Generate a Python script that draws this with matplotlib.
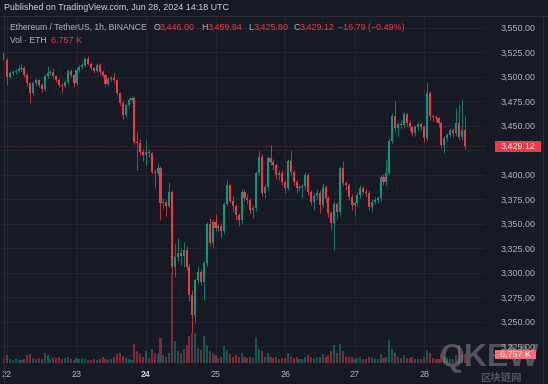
import numpy as np
import matplotlib
matplotlib.use('Agg')
import matplotlib.pyplot as plt
from matplotlib.patches import Rectangle
from matplotlib.transforms import blended_transform_factory

# ---------------- data (hourly candles, index 0 = Jun 22 00:00 UTC) ----------------
hours = list(range(-1, 159))
open_ = [3523.9, 3517.0, 3500.0, 3503.4, 3505.0, 3506.1, 3507.5, 3508.6, 3501.7, 3493.2,
         3483.0, 3493.2, 3496.6, 3491.5, 3487.1, 3500.7, 3503.4, 3504.8, 3500.7, 3496.6,
         3491.5, 3490.5, 3494.9, 3505.8, 3501.7, 3493.2, 3506.8, 3509.6, 3512.0, 3517.8,
         3513.0, 3508.6, 3506.1, 3512.0, 3505.1, 3501.7, 3492.2, 3497.3, 3498.3, 3496.6,
         3483.0, 3472.8, 3460.9, 3471.1, 3476.2, 3478.6, 3433.7, 3432.7, 3423.5, 3420.1,
         3423.5, 3421.8, 3403.1, 3402.0, 3406.8, 3371.1, 3372.0, 3368.0, 3382.7, 3306.1,
         3316.3, 3319.8, 3317.0, 3323.2, 3306.1, 3277.2, 3256.8, 3292.5, 3301.0, 3290.8,
         3309.6, 3349.7, 3330.0, 3352.0, 3345.3, 3347.7, 3342.9, 3370.1, 3389.5, 3373.5,
         3368.0, 3358.9, 3353.8, 3382.7, 3375.9, 3374.2, 3364.0, 3366.0, 3401.4, 3418.4,
         3381.0, 3387.8, 3416.7, 3413.3, 3409.9, 3399.7, 3402.0, 3392.9, 3386.1, 3414.0,
         3403.1, 3392.9, 3386.1, 3387.0, 3388.0, 3400.0, 3382.7, 3372.5, 3378.6, 3381.0,
         3369.1, 3387.2, 3375.9, 3360.6, 3350.4, 3370.1, 3362.2, 3406.5, 3391.2, 3389.5,
         3377.6, 3369.1, 3370.8, 3379.3, 3386.1, 3382.7, 3381.5, 3367.3, 3372.4, 3374.2,
         3375.9, 3398.0, 3392.9, 3402.0, 3434.7, 3459.9, 3447.3, 3451.4, 3450.7, 3461.6,
         3453.1, 3448.4, 3442.2, 3449.0, 3451.4, 3449.0, 3437.1, 3483.1, 3459.9, 3458.6,
         3457.6, 3453.1, 3430.3, 3437.1, 3440.5, 3445.6, 3442.2, 3452.4, 3438.2, 3446.0]
high = [3526.0, 3519.0, 3505.5, 3507.0, 3508.0, 3512.0, 3513.0, 3510.5, 3503.5, 3495.0,
        3495.5, 3499.0, 3498.0, 3494.0, 3503.0, 3511.0, 3507.0, 3508.6, 3502.0, 3498.5,
        3494.0, 3497.0, 3507.5, 3508.0, 3503.0, 3509.0, 3511.5, 3514.0, 3520.0, 3521.0,
        3514.5, 3510.0, 3513.5, 3513.5, 3507.0, 3503.0, 3499.5, 3500.5, 3503.4, 3498.0,
        3484.5, 3476.2, 3473.0, 3478.0, 3480.5, 3480.0, 3443.9, 3436.0, 3426.0, 3435.4,
        3426.0, 3423.5, 3405.5, 3412.0, 3409.0, 3376.0, 3374.5, 3392.5, 3384.0, 3330.0,
        3335.4, 3326.0, 3331.3, 3327.0, 3309.0, 3282.0, 3295.0, 3307.0, 3304.0, 3312.0,
        3352.0, 3355.8, 3355.0, 3360.0, 3350.0, 3351.0, 3372.0, 3394.6, 3391.0, 3378.0,
        3370.0, 3361.0, 3385.0, 3385.5, 3380.0, 3376.0, 3369.0, 3403.5, 3425.2, 3421.0,
        3391.0, 3419.0, 3430.3, 3416.0, 3412.0, 3405.0, 3404.5, 3395.0, 3416.0, 3425.2,
        3405.0, 3395.0, 3390.0, 3391.0, 3403.0, 3402.0, 3384.5, 3381.0, 3385.0, 3384.0,
        3392.0, 3389.0, 3378.0, 3363.0, 3373.0, 3372.0, 3409.0, 3414.0, 3394.0, 3392.0,
        3380.0, 3373.0, 3382.0, 3389.0, 3388.0, 3386.0, 3384.0, 3375.0, 3377.0, 3378.0,
        3400.0, 3401.0, 3416.0, 3437.0, 3463.0, 3475.5, 3454.0, 3456.0, 3464.0, 3463.0,
        3456.0, 3450.0, 3451.0, 3454.0, 3453.5, 3451.0, 3494.9, 3485.0, 3462.0, 3461.0,
        3459.0, 3455.0, 3439.0, 3443.0, 3448.0, 3448.0, 3468.0, 3472.0, 3476.0, 3459.94]
low = [3515.5, 3491.5, 3498.5, 3501.5, 3503.0, 3504.5, 3505.5, 3500.0, 3491.0, 3473.5,
       3481.0, 3490.5, 3489.5, 3484.5, 3485.5, 3499.0, 3501.5, 3499.0, 3494.5, 3489.5,
       3483.7, 3488.0, 3493.0, 3500.0, 3490.0, 3491.5, 3504.5, 3507.5, 3510.0, 3511.5,
       3506.5, 3504.0, 3504.5, 3503.0, 3499.5, 3490.0, 3490.5, 3495.5, 3494.5, 3481.0,
       3470.0, 3457.0, 3458.5, 3469.5, 3474.5, 3431.0, 3404.8, 3420.0, 3414.0, 3409.9,
       3418.5, 3400.5, 3386.4, 3399.5, 3353.7, 3365.0, 3358.0, 3366.0, 3299.7, 3296.0,
       3312.0, 3308.0, 3306.0, 3303.0, 3271.0, 3238.5, 3249.7, 3288.0, 3287.0, 3272.0,
       3307.0, 3327.0, 3325.0, 3343.0, 3342.0, 3335.0, 3340.0, 3368.0, 3371.0, 3362.0,
       3354.0, 3348.0, 3351.0, 3373.0, 3370.0, 3360.0, 3355.8, 3363.0, 3399.0, 3378.0,
       3376.0, 3385.0, 3410.0, 3405.0, 3396.0, 3395.0, 3389.0, 3381.0, 3384.0, 3400.0,
       3389.0, 3381.0, 3383.0, 3376.0, 3385.0, 3379.0, 3369.0, 3364.0, 3375.0, 3361.0,
       3366.0, 3372.0, 3357.0, 3343.6, 3323.2, 3356.0, 3359.0, 3388.0, 3384.0, 3374.0,
       3364.0, 3358.0, 3368.0, 3376.0, 3380.0, 3378.0, 3364.0, 3362.0, 3370.0, 3371.0,
       3373.0, 3389.0, 3390.0, 3400.0, 3432.0, 3444.0, 3440.0, 3447.0, 3448.0, 3450.0,
       3445.0, 3439.0, 3440.0, 3446.0, 3446.0, 3433.0, 3434.0, 3456.0, 3455.0, 3454.0,
       3449.0, 3427.2, 3422.0, 3434.0, 3438.0, 3438.0, 3440.0, 3435.0, 3435.0, 3425.8]
close = [3517.0, 3500.0, 3503.4, 3505.0, 3506.1, 3507.5, 3508.6, 3501.7, 3493.2, 3483.0,
         3493.2, 3496.6, 3491.5, 3487.1, 3500.7, 3503.4, 3504.8, 3500.7, 3496.6, 3491.5,
         3490.5, 3494.9, 3505.8, 3501.7, 3493.2, 3506.8, 3509.6, 3512.0, 3517.8, 3513.0,
         3508.6, 3506.1, 3512.0, 3505.1, 3501.7, 3492.2, 3497.3, 3498.3, 3496.6, 3483.0,
         3472.8, 3460.9, 3471.1, 3476.2, 3478.6, 3433.7, 3432.7, 3423.5, 3420.1, 3423.5,
         3421.8, 3403.1, 3402.0, 3406.8, 3371.1, 3372.0, 3368.0, 3382.7, 3306.1, 3316.3,
         3319.8, 3317.0, 3323.2, 3306.1, 3277.2, 3256.8, 3292.5, 3301.0, 3290.8, 3309.6,
         3349.7, 3330.0, 3352.0, 3345.3, 3347.7, 3342.9, 3370.1, 3389.5, 3373.5, 3368.0,
         3358.9, 3353.8, 3382.7, 3375.9, 3374.2, 3364.0, 3366.0, 3401.4, 3418.4, 3381.0,
         3387.8, 3416.7, 3413.3, 3409.9, 3399.7, 3402.0, 3392.9, 3386.1, 3414.0, 3403.1,
         3392.9, 3386.1, 3387.0, 3388.0, 3400.0, 3382.7, 3372.5, 3378.6, 3381.0, 3369.1,
         3387.2, 3375.9, 3360.6, 3350.4, 3370.1, 3362.2, 3406.5, 3391.2, 3389.5, 3377.6,
         3369.1, 3370.8, 3379.3, 3386.1, 3382.7, 3381.5, 3367.3, 3372.4, 3374.2, 3375.9,
         3398.0, 3392.9, 3402.0, 3434.7, 3459.9, 3447.3, 3451.4, 3450.7, 3461.6, 3453.1,
         3448.4, 3442.2, 3449.0, 3451.4, 3449.0, 3437.1, 3483.1, 3459.9, 3458.6, 3457.6,
         3453.1, 3430.3, 3437.1, 3440.5, 3445.6, 3442.2, 3452.4, 3438.2, 3445.91, 3429.12]
volume_k = [3.5, 6, 3, 2.5, 3, 2.5, 2, 3, 6.5, 7,
            4, 3, 3.5, 3, 8, 6, 3, 3.5, 4, 5,
            3, 3.5, 5, 3, 2.5, 4, 3, 3.5, 3, 2.5,
            2, 3, 2.5, 3, 5, 3, 2.5, 3, 4.5, 7,
            8, 5.5, 4, 3, 2.5, 15, 9, 7, 5, 9,
            4, 11, 8, 7, 19, 6, 5, 8, 70, 17,
            9, 8, 11, 14, 21, 23, 23, 12, 10, 21,
            14, 9, 8, 6, 4, 5, 13, 10, 7, 5,
            6, 5, 8, 5, 4, 5, 4, 20, 11, 9,
            5, 8, 5, 4, 5, 3, 4, 4, 8, 5,
            4, 5, 3, 3, 5, 6, 5, 3, 3.5, 4.5,
            7, 5, 6, 9, 14, 8, 15, 9, 5, 5,
            5, 3, 4, 5, 3, 3, 5, 3.5, 3, 3,
            7, 4, 5, 18, 11, 8, 5, 4, 6, 4,
            4, 5, 3, 3, 3, 5, 10, 8, 4, 3,
            3, 7, 5, 4, 3, 3, 6, 14, 6, 6.757]

day_ticks = [0, 24, 48, 72, 96, 120, 144]
day_labels = ['22', '23', '24', '25', '26', '27', '28']
bold_day = '24'
price_ticks = [3225, 3250, 3275, 3300, 3325, 3350, 3375, 3400, 3425, 3450, 3475, 3500, 3525, 3550]
symbol = 'Ethereum / TetherUS, 1h, BINANCE'
published = 'Published on TradingView.com, Jun 28, 2024 14:18 UTC'
vol_title = 'Vol · ETH'
watermark = 'QKEW'
watermark_cn = '区块链网'

# ---------------- style ----------------
W, H = 548, 384
BG = '#161a25'
GRID = '#232733'
TXT = '#b2b5be'
UP = '#089981'
DN = '#f23645'
FONT = ['Liberation Sans', 'DejaVu Sans']
FS = 6.4
FS_T = 6.15
plt.rcParams['font.family'] = FONT

fig = plt.figure(figsize=(W / 100, H / 100), dpi=100, facecolor=BG)

def fx(x):
    return x / W

def fy(y):
    return 1 - y / H

x_left, x_right, y_top, y_bot = 0, 485, 16, 363
pos = [fx(x_left), fy(y_bot), fx(x_right) - fx(x_left), fy(y_top) - fy(y_bot)]

t = np.array(hours, dtype=float)
o = np.array(open_); h = np.array(high); l = np.array(low); c = np.array(close)
v = np.array(volume_k)
up = c >= o
col = np.where(up, UP, DN)

px_per_h = 2.896
x0_px = 7.0
xlim = ((x_left - x0_px) / px_per_h, (x_right - x0_px) / px_per_h)
ylim = (3500 - (y_bot - 76.7) / 0.98, 3500 + (76.7 - y_top) / 0.98)
vtop = (y_bot - y_top) / 1.29

# volume axis (behind), also carries the grid
axv = fig.add_axes(pos)
axv.set_facecolor(BG)
axv.set_xlim(*xlim)
axv.set_ylim(0, vtop)
for yt in price_ticks:
    axv.axhline((yt - ylim[0]) / (ylim[1] - ylim[0]) * vtop, color=GRID, lw=0.7, zorder=0)
for xt in day_ticks:
    axv.axvline(xt, color=GRID, lw=0.7, zorder=0)
axv.bar(t, v, width=0.72, color=col, alpha=0.5, linewidth=0, zorder=1)
axv.axis('off')

# price axis
ax = fig.add_axes(pos, sharex=axv)
ax.patch.set_alpha(0)
ax.set_xlim(*xlim)
ax.set_ylim(*ylim)
for s in ax.spines.values():
    s.set_visible(False)
axv.set_zorder(0); ax.set_zorder(1)

last = c[-1]
ax.set_yticks(price_ticks)
ax.yaxis.tick_right()
# labels hidden behind the last-price tag
ax.set_yticklabels(['' if abs(p - last) < 9 else f'{p:,.2f}' for p in price_ticks])
ax.tick_params(axis='y', length=0, pad=11.3, labelsize=FS, labelcolor=TXT)
ax.set_xticks(day_ticks)
ax.set_xticklabels(day_labels)
ax.tick_params(axis='x', length=0, pad=5.2, labelsize=FS, labelcolor=TXT)
for lab in ax.get_xticklabels():
    if lab.get_text() == bold_day:
        lab.set_fontweight('bold')
        lab.set_color('#d1d4dc')

# candles
ax.vlines(t, l, h, colors=col, linewidth=0.55, zorder=3)
body_low = np.minimum(o, c)
body_h = np.maximum(np.abs(c - o), 0.7)
ax.bar(t, body_h, bottom=body_low, width=0.72, color=col, linewidth=0, zorder=4)

# last price line
ax.axhline(last, color=DN, lw=0.6, alpha=0.55, ls=(0, (1.5, 2.0)), zorder=2)

# last price label on scale
bt = blended_transform_factory(fig.transFigure, ax.transData)
fig.add_artist(Rectangle((fx(495), last - 5.6), fx(46), 11.2, transform=bt,
                         facecolor=DN, edgecolor='none', zorder=10))
fig.text(fx(518), last, f'{last:,.2f}', transform=bt, ha='center', va='center',
         color='white', fontsize=FS, zorder=11)

# frame lines
fig.add_artist(plt.Line2D([0, 1], [fy(15.7), fy(15.7)], color='#2a2e39', lw=0.8))
fig.add_artist(plt.Line2D([fx(4), fx(4)], [0, fy(15.7)], color='#2a2e39', lw=0.8))
fig.add_artist(plt.Line2D([fx(543), fx(543)], [0, fy(15.7)], color='#2a2e39', lw=0.8))

# header texts
fig.text(fx(4), fy(8), published, ha='left', va='center', color='#d1d4dc', fontsize=FS)
prev = c[-2]
chg = last - prev
pct = chg / prev * 100

def sgn(x, fmt):
    s = format(abs(x), fmt)
    return ('\u2212' if x < 0 else '+') + s

vl = v[-1]
segs = [(symbol, 10, TXT, FS_T),
        ('O', 153.3, TXT, FS), (f'{o[-1]:,.2f}', 159.3, DN, FS),
        ('H', 201.0, TXT, FS), (f'{h[-1]:,.2f}', 207.3, DN, FS),
        ('L', 248.3, TXT, FS), (f'{l[-1]:,.2f}', 253.3, DN, FS),
        ('C', 293.3, TXT, FS), (f'{last:,.2f}', 299.3, DN, FS),
        (f'{sgn(chg, ".2f")} ({sgn(pct, ".2f")}%)', 338.3, DN, FS)]
for s, x, cl, fs in segs:
    fig.text(fx(x), fy(27.5), s, ha='left', va='center', color=cl, fontsize=fs)
fig.text(fx(10), fy(40.5), vol_title, ha='left', va='center', color=TXT, fontsize=FS_T)
fig.text(fx(50.7), fy(40.5), f'{vl:.3f} K', ha='left', va='center', color=DN, fontsize=FS)

# watermark (semi-transparent overlay, under the scale tags)
fig.text(fx(440), fy(358), watermark, ha='left', va='center', color='#9a9ca3', alpha=0.45,
         fontsize=23, fontweight='bold', zorder=8)
fig.text(fx(480), fy(377.5), watermark_cn, ha='left', va='center', color='#9a9ca3', alpha=0.45,
         fontsize=7.5, fontweight='bold', family=['Noto Sans CJK SC', 'DejaVu Sans'], zorder=8)

# volume label on scale
bv = blended_transform_factory(fig.transFigure, axv.transData)
fig.add_artist(Rectangle((fx(495), vl - 3.6), fx(41), 7.2, transform=bv,
                         facecolor='#f56d78', edgecolor='none', zorder=10))
fig.text(fx(515.5), vl, f'{vl:.3f} K', transform=bv, ha='center', va='center',
         color='white', fontsize=FS, zorder=11)

fig.savefig('out.png', dpi=100, facecolor=BG)
